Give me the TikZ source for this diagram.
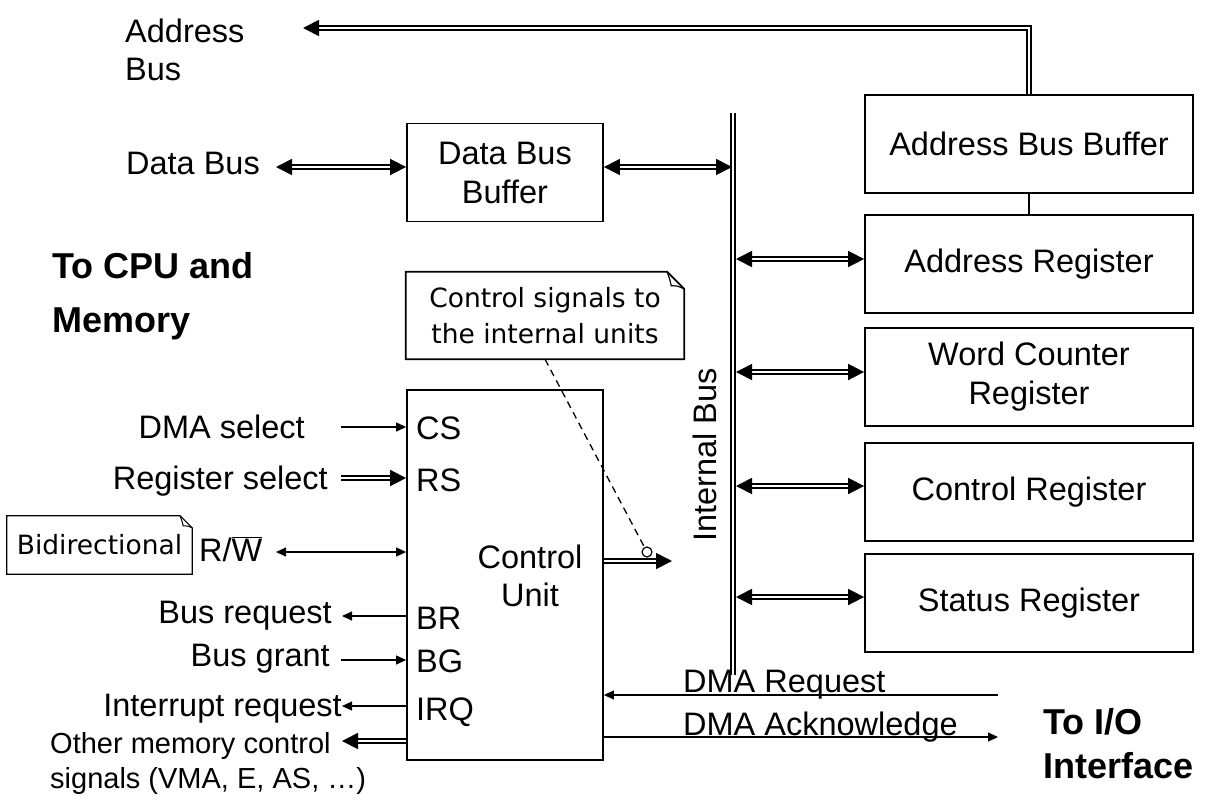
\documentclass[tikz,border=0pt]{standalone}
\usepackage{fontspec}
\setmainfont{Liberation Sans}
\newfontfamily\notefont{DejaVu Sans}
\usetikzlibrary{arrows.meta,calc}
\begin{document}
\begin{tikzpicture}[x=1pt,y=-1pt,
  box/.style={draw, line width=1.8pt, inner sep=0pt, align=center, font=\fontsize{32.5}{39}\selectfont},
  lbl/.style={inner sep=0pt, font=\fontsize{32.5}{38}\selectfont},
  small/.style={inner sep=0pt, font=\fontsize{29}{35}\selectfont},
  boldlbl/.style={inner sep=0pt, font=\fontsize{36}{54}\selectfont\bfseries},
  note/.style={inner sep=0pt, align=center, font=\notefont\fontsize{26.5}{36}\selectfont},
  thinarr/.style={line width=1.1pt, -{Triangle[length=10pt,width=9pt]}},
  thinbi/.style={line width=1.1pt, {Triangle[length=10pt,width=9pt]}-{Triangle[length=10pt,width=9pt]}},
  dblline/.style={double, double distance=1.8pt, line width=1.7pt, line join=miter},
  dblarr/.style={dblline, -{Triangle[length=16pt,width=16pt]}},
  dblbi/.style={dblline, {Triangle[length=16pt,width=16pt]}-{Triangle[length=16pt,width=16pt]}}
]
\useasboundingbox (0,0) rectangle (1231,804);

% right-hand boxes
\node[box, minimum width=328pt, minimum height=98pt] (abb) at (1029,144) {Address Bus Buffer};
\node[box, minimum width=328pt, minimum height=98pt] (ar) at (1029,264) {Address Register};
\node[box, minimum width=328pt, minimum height=98pt] (wcr) at (1029,377) {Word Counter\\Register};
\node[box, minimum width=328pt, minimum height=98pt] (cr) at (1029,492) {Control Register};
\node[box, minimum width=328pt, minimum height=98pt] (sr) at (1029,603) {Status Register};

% data bus buffer and control unit
\node[box, minimum width=196pt, minimum height=98pt] (dbb) at (505,172.5) {Data Bus\\Buffer};
\node[draw, line width=1.8pt, inner sep=0pt, minimum width=196pt, minimum height=370pt] (cu) at (505,575) {};
\node[lbl, align=center] (cutxt) at (530,576) {Control\\Unit};

% address bus
\coordinate (abend) at (303,28);
\draw[dblarr] (abb.north) |- (abend);
\draw[line width=1.8pt] (abb.south) -- (ar.north);

% internal bus
\coordinate (ibt) at (733,113);
\coordinate (ibb) at (733,675);
\draw[double, double distance=2.2pt, line width=1.7pt] (ibt) -- (ibb);
\node[lbl, rotate=90] (ibl) at (705,455) {Internal Bus};

\coordinate (p1) at (736,259);
\coordinate (p2) at (736,372);
\coordinate (p3) at (736,486);
\coordinate (p4) at (736,597);
\draw[dblbi] (p1) -- (ar.west |- p1);
\draw[dblbi] (p2) -- (wcr.west |- p2);
\draw[dblbi] (p3) -- (cr.west |- p3);
\draw[dblbi] (p4) -- (sr.west |- p4);

% data bus
\coordinate (dbl) at (276,167);
\coordinate (dbr) at (732,167);
\draw[dblbi] (dbl) -- (dbb.west |- dbl);
\draw[dblbi] (dbb.east |- dbr) -- (dbr);

% top-left labels
\node[lbl, anchor=base west] (adl1) at (125,42) {Address};
\node[lbl, anchor=base west] (adl2) at (125,80) {Bus};
\node[lbl, anchor=base east] (dbt) at (260,174) {Data Bus};
\node[boldlbl, anchor=base west] (cpu1) at (52,278) {To CPU and};
\node[boldlbl, anchor=base west] (cpu2) at (52,332) {Memory};

% callout
\node[note, minimum width=278pt, minimum height=87pt] (cal) at (545,315.5) {Control signals to\\the internal units};
\draw[line width=1.8pt, line join=miter]
  (cal.north west) -- ($(cal.north east)+(-17,0)$) -- ($(cal.north east)+(0,17)$)
  -- (cal.south east) -- (cal.south west) -- cycle;
\draw[line width=1.2pt]
  ($(cal.north east)+(-17,0)$) .. controls ($(cal.north east)+(-14,9)$) .. ($(cal.north east)+(-13,14)$)
  .. controls ($(cal.north east)+(-7,14)$) .. ($(cal.north east)+(0,17)$);
\node[draw, circle, line width=1.2pt, inner sep=0pt, minimum size=10pt] (dot) at (647,552) {};
\draw[line width=1.3pt, dash pattern=on 7pt off 5pt] (cal.south) -- (dot);

% control unit output
\coordinate (cuout) at (672,561);
\draw[dblarr] (cu.east |- cuout) -- (cuout);

% pin labels
\node[lbl, anchor=base west] (cs) at (416,439) {CS};
\node[lbl, anchor=base west] (rs) at (416,491) {RS};
\node[lbl, anchor=base west] (br) at (416,629) {BR};
\node[lbl, anchor=base west] (bg) at (416,672) {BG};
\node[lbl, anchor=base west] (irq) at (416,720) {IRQ};

% left signals
\node[lbl, anchor=base east] (t1) at (305,438) {DMA select};
\coordinate (s1) at (341,427);
\draw[thinarr] (s1) -- (cu.west |- s1);

\node[lbl, anchor=base east] (t2) at (328,489) {Register select};
\coordinate (s2) at (341,478);
\draw[dblarr] (s2) -- (cu.west |- s2);

\node[lbl, anchor=base west] (t3) at (199,561) {R/$\overline{\hbox{W}}$};
\coordinate (s3) at (276,552);
\draw[thinbi] (s3) -- (cu.west |- s3);

\node[lbl, anchor=base east] (t4) at (332,623) {Bus request};
\coordinate (s4) at (342,616);
\draw[thinarr] (cu.west |- s4) -- (s4);

\node[lbl, anchor=base east] (t5) at (330,666) {Bus grant};
\coordinate (s5) at (341,660);
\draw[thinarr] (s5) -- (cu.west |- s5);

\node[lbl, anchor=base east] (t6) at (342,716) {Interrupt request};
\coordinate (s6) at (342,706);
\draw[thinarr] (cu.west |- s6) -- (s6);

\node[small, anchor=base west] (t7a) at (50,753) {Other memory control};
\node[small, anchor=base west] (t7b) at (50,788) {signals (VMA, E, AS, …)};
\coordinate (s7) at (342,741);
\draw[dblarr] (cu.west |- s7) -- (s7);

% bidirectional note
\node[note, minimum width=185pt, minimum height=58pt] (bid) at (99.5,545) {Bidirectional};
\draw[line width=1.2pt, line join=miter]
  (bid.north west) -- ($(bid.north east)+(-12,0)$) -- ($(bid.north east)+(0,12)$)
  -- (bid.south east) -- (bid.south west) -- cycle;
\draw[line width=1pt]
  ($(bid.north east)+(-12,0)$) .. controls ($(bid.north east)+(-10,6)$) .. ($(bid.north east)+(-9,10)$)
  .. controls ($(bid.north east)+(-5,10)$) .. ($(bid.north east)+(0,12)$);

% DMA request / acknowledge
\node[lbl, anchor=base west] (dr) at (683,692) {DMA Request};
\coordinate (q1) at (998,695);
\draw[thinarr] (q1) -- (cu.east |- q1);
\node[lbl, anchor=base west] (da) at (683,735) {DMA Acknowledge};
\coordinate (q2) at (998,737);
\draw[thinarr] (cu.east |- q2) -- (q2);

\node[boldlbl, anchor=base west] (io1) at (1043,734) {To I/O};
\node[boldlbl, anchor=base west] (io2) at (1043,778) {Interface};
\end{tikzpicture}
\end{document}
